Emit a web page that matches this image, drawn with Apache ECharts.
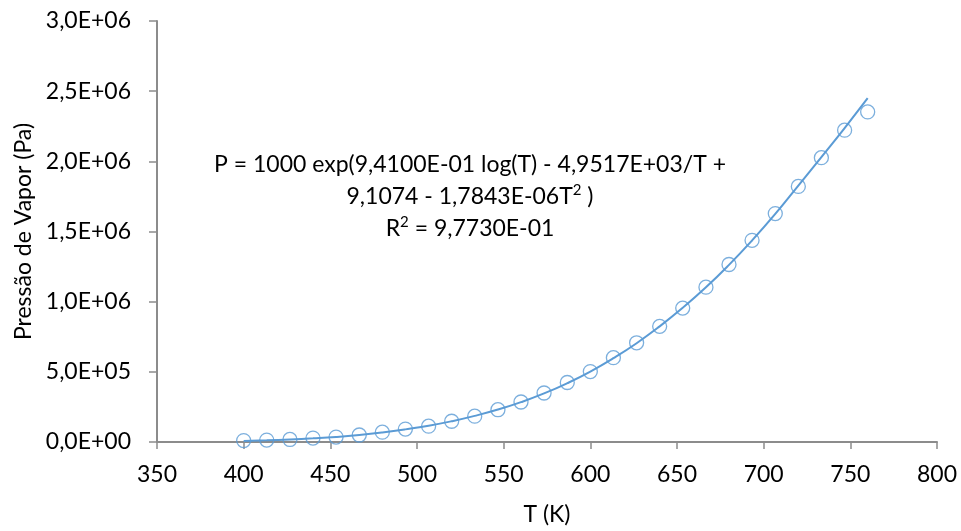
<!DOCTYPE html>
<html>
<head>
<meta charset="utf-8">
<script src="https://cdn.jsdelivr.net/npm/echarts@6/dist/echarts.min.js"></script>
<style>
  html, body { margin: 0; padding: 0; background: #ffffff; }
  #chart { width: 961px; height: 531px; }
</style>
</head>
<body>
<div id="chart"></div>
<script>
// Temperatures (K) of the measured points
const temperatures = [400, 413.3, 426.7, 440, 453.3, 466.7, 480, 493.3, 506.7, 520,
  533.3, 546.7, 560, 573.3, 586.7, 600, 613.3, 626.7, 640, 653.3,
  666.7, 680, 693.3, 706.7, 720, 733.3, 746.7, 760];

// Measured vapour pressure (Pa)
const measuredPressure = [1.0e4, 1.4e4, 1.8e4, 2.8e4, 3.5e4, 5.0e4, 7.0e4, 9.2e4, 1.13e5, 1.48e5,
  1.84e5, 2.30e5, 2.85e5, 3.49e5, 4.24e5, 5.02e5, 6.01e5, 7.07e5, 8.24e5, 9.54e5,
  1.103e6, 1.265e6, 1.437e6, 1.628e6, 1.821e6, 2.026e6, 2.222e6, 2.352e6];

// Fitted curve (Pa), sampled at the same temperatures
const fittedPressure = [8e3, 1.2e4, 1.8e4, 2.6e4, 3.6e4, 5.0e4, 6.8e4, 9.0e4, 1.16e5, 1.48e5,
  1.86e5, 2.31e5, 2.84e5, 3.46e5, 4.19e5, 5.02e5, 5.97e5, 7.04e5, 8.24e5, 9.56e5,
  1.102e6, 1.262e6, 1.436e6, 1.625e6, 1.827e6, 2.03e6, 2.237e6, 2.45e6];

// Axis settings
const xMin = 350, xMax = 800, xStep = 50;
const yMin = 0, yMax = 3.0e6, yStep = 5.0e5;

// Fit equation shown on the chart (rich-text markup: n = normal, s = superscript)
const equationLines = [
  '{n|P = 1000 exp(9,4100E-01 log(T) - 4,9517E+03/T +}',
  '{n|9,1074 - 1,7843E-06T}{s|2}{n| )}',
  '{n|R}{s|2}{n| = 9,7730E-01}'
];

const FONT = 'Lato';
const FS = 23;
const BLUE = '#5B9BD5';
const AXIS = '#8c8c8c';

// 3,0E+06 style: one decimal, comma separator, two-digit exponent
function sciLabel(v) {
  if (v === 0) return '0,0E+00';
  const e = Math.floor(Math.log10(Math.abs(v)) + 1e-9);
  const m = v / Math.pow(10, e);
  const sign = e < 0 ? '-' : '+';
  const ee = String(Math.abs(e)).padStart(2, '0');
  return m.toFixed(1).replace('.', ',') + 'E' + sign + ee;
}

const chart = echarts.init(document.getElementById('chart'), null, { renderer: 'canvas' });

const measured = temperatures.map((t, i) => [t, measuredPressure[i]]);
const fitted = temperatures.map((t, i) => [t, fittedPressure[i]]);

chart.setOption({
  animation: false,
  backgroundColor: '#ffffff',
  textStyle: { fontFamily: FONT },
  grid: { left: 157, top: 21, right: 24, bottom: 86, containLabel: false },
  xAxis: {
    type: 'value',
    min: xMin, max: xMax, interval: xStep,
    name: 'T (K)',
    nameLocation: 'middle',
    nameGap: 61,
    nameTextStyle: { fontFamily: FONT, fontSize: FS, color: '#000' },
    axisLine: { show: true, onZero: false, lineStyle: { color: AXIS, width: 2 } },
    axisTick: { show: true, length: 7, lineStyle: { color: AXIS, width: 1.5 } },
    axisLabel: { margin: 21, fontFamily: FONT, fontSize: FS, color: '#000' },
    splitLine: { show: false }
  },
  yAxis: {
    type: 'value',
    min: yMin, max: yMax, interval: yStep,
    name: 'Pressão de Vapor (Pa)',
    nameLocation: 'middle',
    nameGap: 120,
    nameTextStyle: { fontFamily: FONT, fontSize: FS, color: '#000' },
    axisLine: { show: true, onZero: false, lineStyle: { color: AXIS, width: 2 } },
    axisTick: { show: true, length: 8, lineStyle: { color: AXIS, width: 1.5 } },
    axisLabel: { margin: 26, fontFamily: FONT, fontSize: FS, color: '#000', formatter: sciLabel },
    splitLine: { show: false }
  },
  series: [
    {
      name: 'ajuste',
      type: 'line',
      data: fitted,
      smooth: true,
      showSymbol: false,
      lineStyle: { color: BLUE, width: 2 },
      z: 2
    },
    {
      name: 'dados',
      type: 'scatter',
      data: measured,
      symbol: 'circle',
      symbolSize: 14,
      itemStyle: { color: 'rgba(0,0,0,0)', borderColor: BLUE, borderWidth: 1.3 },
      z: 3
    }
  ],
  graphic: equationLines.map((txt, i) => ({
    type: 'text',
    x: 470,
    y: 165 + i * 32,
    style: {
      text: txt,
      textAlign: 'center',
      textVerticalAlign: 'middle',
      rich: {
        n: { fontFamily: FONT, fontSize: FS, lineHeight: 28, fill: '#000', verticalAlign: 'middle' },
        s: { fontFamily: FONT, fontSize: 15, lineHeight: 28, fill: '#000', verticalAlign: 'top' }
      }
    }
  }))
});
</script>
</body>
</html>
